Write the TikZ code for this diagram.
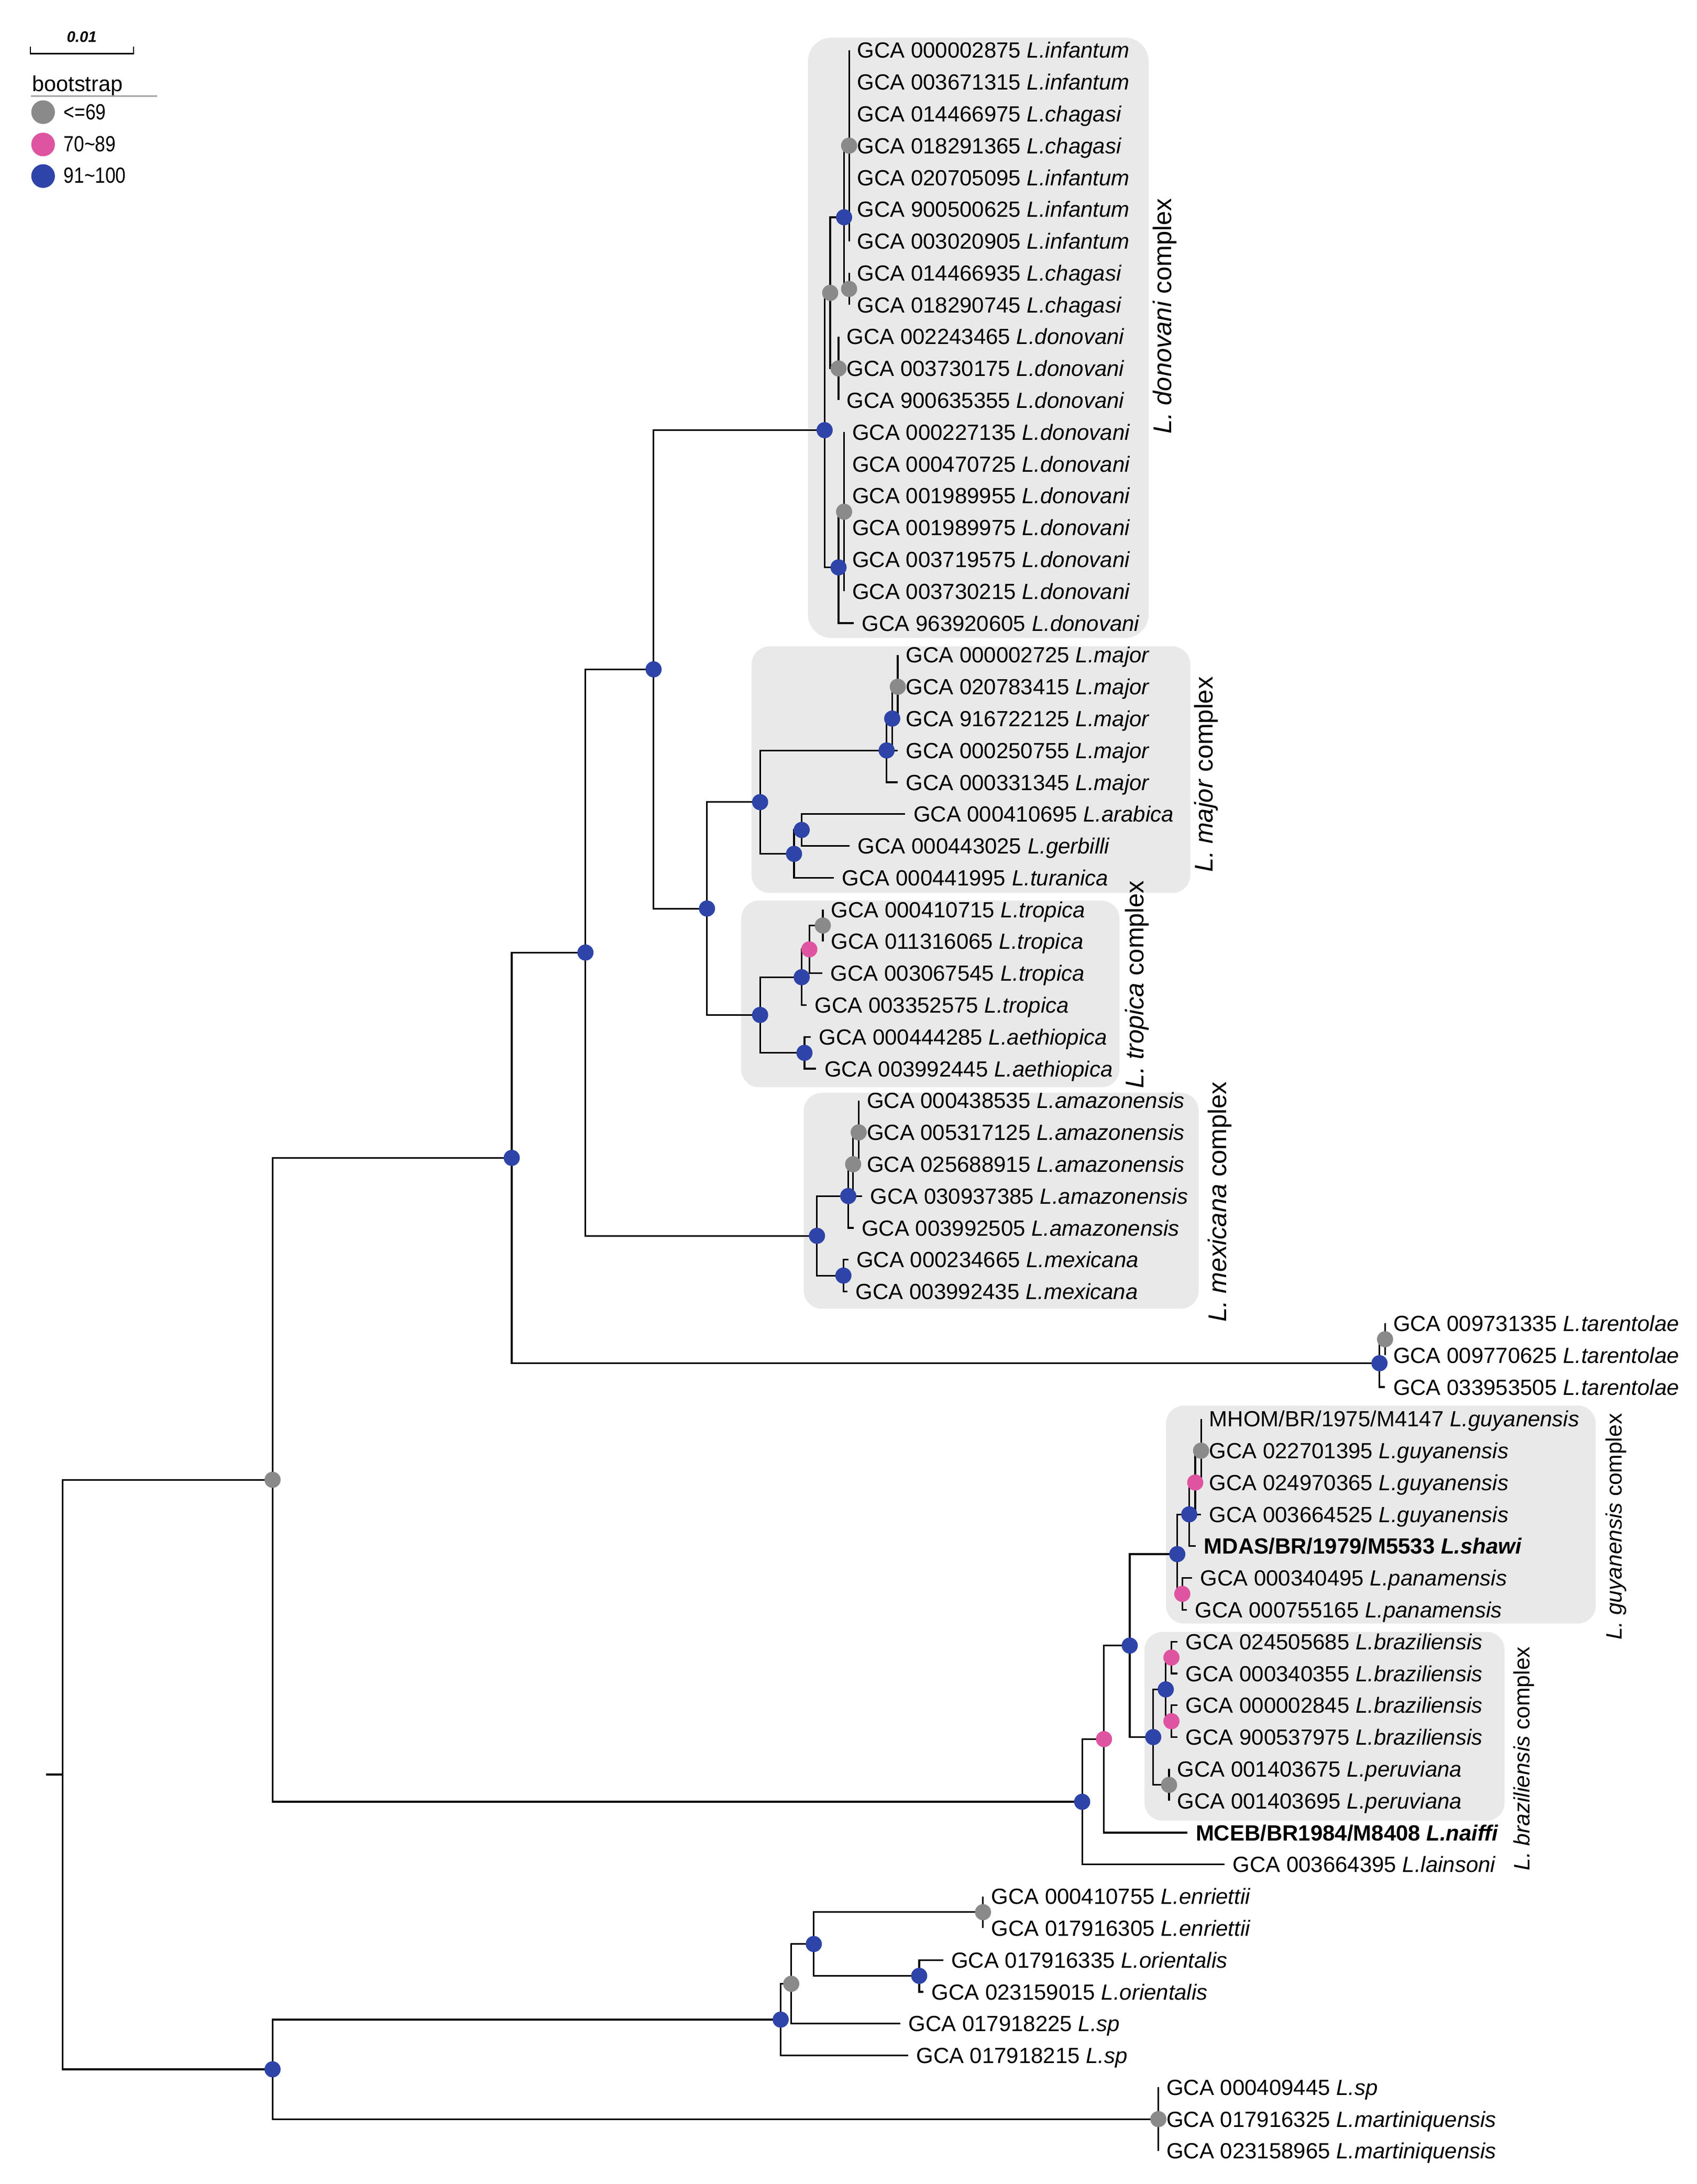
\documentclass[tikz,border=0pt]{standalone}
\usepackage{fontspec}
\setmainfont{Liberation Sans}
\usetikzlibrary{calc}
\definecolor{dotgrey}{RGB}{138,138,138}
\definecolor{dotpink}{RGB}{222,84,160}
\definecolor{dotblue}{RGB}{46,68,168}
\definecolor{boxgrey}{RGB}{233,233,233}
\newcommand\ry[1]{36+(#1-1)*22.85}
\newcommand\gca[2]{GCA #1 \textit{L.#2}}
\newcommand\tleaf[5]{%
  \coordinate (#1) at (#3,{\ry{#4}});
  \draw[br] (#2) |- (#1);
  \node[leaf] (#1t) at ($(#1)+(5.5,5.66)$) {#5};
}
\begin{document}
\begin{tikzpicture}[x=0.5pt,y=-0.501pt,
  br/.style={line width=0.6pt,black},
  leaf/.style={anchor=base west,inner sep=0pt,font=\fontsize{7.9}{9.5}\selectfont},
  rotbig/.style={rotate=90,inner sep=0pt,anchor=center,font=\fontsize{9.2}{11}\selectfont},
  rotsmall/.style={rotate=90,inner sep=0pt,anchor=center,font=\fontsize{8}{10}\selectfont},
  clade/.style={fill=boxgrey,rounded corners=6.5pt},
  gd/.style={fill=dotgrey},
  pd/.style={fill=dotpink},
  bd/.style={fill=dotblue},
  legtxt/.style={anchor=base west,inner sep=0pt,font=\fontsize{7.9}{9.5}\selectfont}]
\useasboundingbox (0pt,0pt) rectangle (610pt,-785.5pt);
\fill[white] (0pt,0pt) rectangle (610pt,-785.5pt);

% clade boxes
\fill[clade,rounded corners=8.5pt] (581,27) rectangle (826,458);
\fill[clade] (540.5,464) rectangle (856,641);
\fill[clade] (533,646.5) rectangle (805,780.5);
\fill[clade] (578,784.5) rectangle (862,939.5);
\fill[clade] (838.5,1009) rectangle (1147.5,1165.5);
\fill[clade] (823,1171.5) rectangle (1082,1307);

% internal nodes
\coordinate (rootstub) at (33,1273.9);
\coordinate (root) at (45,1273.9);
\coordinate (R1) at (196,1062.3);
\coordinate (R2) at (196,1485.5);
\coordinate (B1) at (368,831.2);
\coordinate (B2) at (421,683.8);
\coordinate (B3) at (470,480.5);
\coordinate (B4) at (508.4,652.2);
\coordinate (D0) at (593,308.8);
\coordinate (D1) at (597,210.24);
\coordinate (N2) at (607,155.98);
\coordinate (N1) at (610.6,104.55);
\coordinate (N3) at (610.6,207.4);
\coordinate (D2) at (603,264.5);
\coordinate (D3) at (603,407.3);
\coordinate (D4) at (607,367.33);
\coordinate (M0) at (546.6,575.8);
\coordinate (M1) at (637.6,538.7);
\coordinate (M3) at (641.6,515.85);
\coordinate (M4) at (645.6,493);
\coordinate (M2) at (571,612.95);
\coordinate (M5) at (576.5,595.8);
\coordinate (T0) at (546.6,728.6);
\coordinate (T1) at (576.5,701.5);
\coordinate (T3) at (582,681.5);
\coordinate (T4) at (591.7,664.4);
\coordinate (T2) at (578.5,755.8);
\coordinate (X0) at (587.5,887.15);
\coordinate (X1) at (610,858.6);
\coordinate (X2) at (613.5,835.75);
\coordinate (X3) at (617.5,812.9);
\coordinate (X4) at (606.5,915.7);
\coordinate (TA) at (992,978.6);
\coordinate (TB) at (996,961.4);
\coordinate (BR0) at (778.2,1293.45);
\coordinate (BR1) at (793.9,1248.45);
\coordinate (BR2) at (812.4,1181.3);
\coordinate (BR3) at (829.3,1247);
\coordinate (BR4) at (838.3,1212.75);
\coordinate (BR5) at (842.4,1189.9);
\coordinate (BR6) at (842.4,1235.6);
\coordinate (BR7) at (840.7,1281.3);
\coordinate (G0) at (846.6,1115.65);
\coordinate (G1) at (855.2,1087.1);
\coordinate (G3) at (859.5,1064.25);
\coordinate (G4) at (863.7,1041.4);
\coordinate (G2) at (850.2,1144.2);
\coordinate (E0) at (561.4,1449.8);
\coordinate (E1) at (569,1424.1);
\coordinate (E2) at (585.2,1395.55);
\coordinate (E3) at (706.9,1372.7);
\coordinate (E4) at (661,1418.4);
\coordinate (MQ) at (833,1521.25);

% internal branches
\draw[br] (rootstub) -- (root);
\draw[br] (root) |- (R1);
\draw[br] (root) |- (R2);
\draw[br] (R1) |- (B1);
\draw[br] (R1) |- (BR0);
\draw[br] (R2) |- (E0);
\draw[br] (R2) |- (MQ);
\draw[br] (B1) |- (B2);
\draw[br] (B1) |- (TA);
\draw[br] (B2) |- (B3);
\draw[br] (B2) |- (X0);
\draw[br] (B3) |- (D0);
\draw[br] (B3) |- (B4);
\draw[br] (B4) |- (M0);
\draw[br] (B4) |- (T0);
\draw[br] (D0) |- (D1);
\draw[br] (D0) |- (D3);
\draw[br] (D1) |- (N2);
\draw[br] (D1) |- (D2);
\draw[br] (N2) |- (N1);
\draw[br] (N2) |- (N3);
\draw[br] (D3) |- (D4);
\draw[br] (M0) |- (M1);
\draw[br] (M0) |- (M2);
\draw[br] (M1) |- (M3);
\draw[br] (M3) |- (M4);
\draw[br] (M2) |- (M5);
\draw[br] (T0) |- (T1);
\draw[br] (T0) |- (T2);
\draw[br] (T1) |- (T3);
\draw[br] (T3) |- (T4);
\draw[br] (X0) |- (X1);
\draw[br] (X0) |- (X4);
\draw[br] (X1) |- (X2);
\draw[br] (X2) |- (X3);
\draw[br] (TA) |- (TB);
\draw[br] (BR0) |- (BR1);
\draw[br] (BR1) |- (BR2);
\draw[br] (BR2) |- (G0);
\draw[br] (BR2) |- (BR3);
\draw[br] (BR3) |- (BR4);
\draw[br] (BR3) |- (BR7);
\draw[br] (BR4) |- (BR5);
\draw[br] (BR4) |- (BR6);
\draw[br] (G0) |- (G1);
\draw[br] (G0) |- (G2);
\draw[br] (G1) |- (G3);
\draw[br] (G3) |- (G4);
\draw[br] (E0) |- (E1);
\draw[br] (E1) |- (E2);
\draw[br] (E2) |- (E3);
\draw[br] (E2) |- (E4);

% leaves
\tleaf{l1}{N1}{610.6}{1}{\gca{000002875}{infantum}}
\tleaf{l2}{N1}{610.6}{2}{\gca{003671315}{infantum}}
\tleaf{l3}{N1}{610.6}{3}{\gca{014466975}{chagasi}}
\tleaf{l4}{N1}{610.6}{4}{\gca{018291365}{chagasi}}
\tleaf{l5}{N1}{610.6}{5}{\gca{020705095}{infantum}}
\tleaf{l6}{N1}{610.6}{6}{\gca{900500625}{infantum}}
\tleaf{l7}{N1}{610.6}{7}{\gca{003020905}{infantum}}
\tleaf{l8}{N3}{610.6}{8}{\gca{014466935}{chagasi}}
\tleaf{l9}{N3}{610.6}{9}{\gca{018290745}{chagasi}}
\tleaf{l10}{D2}{603}{10}{\gca{002243465}{donovani}}
\tleaf{l11}{D2}{603}{11}{\gca{003730175}{donovani}}
\tleaf{l12}{D2}{603}{12}{\gca{900635355}{donovani}}
\tleaf{l13}{D4}{607}{13}{\gca{000227135}{donovani}}
\tleaf{l14}{D4}{607}{14}{\gca{000470725}{donovani}}
\tleaf{l15}{D4}{607}{15}{\gca{001989955}{donovani}}
\tleaf{l16}{D4}{607}{16}{\gca{001989975}{donovani}}
\tleaf{l17}{D4}{607}{17}{\gca{003719575}{donovani}}
\tleaf{l18}{D4}{607}{18}{\gca{003730215}{donovani}}
\tleaf{l19}{D3}{614}{19}{\gca{963920605}{donovani}}
\tleaf{l20}{M4}{645.6}{20}{\gca{000002725}{major}}
\tleaf{l21}{M4}{645.6}{21}{\gca{020783415}{major}}
\tleaf{l22}{M4}{645.6}{22}{\gca{916722125}{major}}
\tleaf{l23}{M3}{645.6}{23}{\gca{000250755}{major}}
\tleaf{l24}{M1}{645.6}{24}{\gca{000331345}{major}}
\tleaf{l25}{M5}{651}{25}{\gca{000410695}{arabica}}
\tleaf{l26}{M5}{611}{26}{\gca{000443025}{gerbilli}}
\tleaf{l27}{M2}{599.7}{27}{\gca{000441995}{turanica}}
\tleaf{l28}{T4}{591.7}{28}{\gca{000410715}{tropica}}
\tleaf{l29}{T4}{591.7}{29}{\gca{011316065}{tropica}}
\tleaf{l30}{T3}{591.4}{30}{\gca{003067545}{tropica}}
\tleaf{l31}{T1}{580}{31}{\gca{003352575}{tropica}}
\tleaf{l32}{T2}{583}{32}{\gca{000444285}{aethiopica}}
\tleaf{l33}{T2}{587}{33}{\gca{003992445}{aethiopica}}
\tleaf{l34}{X3}{617.5}{34}{\gca{000438535}{amazonensis}}
\tleaf{l35}{X3}{617.5}{35}{\gca{005317125}{amazonensis}}
\tleaf{l36}{X3}{617.5}{36}{\gca{025688915}{amazonensis}}
\tleaf{l37}{X2}{620}{37}{\gca{030937385}{amazonensis}}
\tleaf{l38}{X1}{613.8}{38}{\gca{003992505}{amazonensis}}
\tleaf{l39}{X4}{610}{39}{\gca{000234665}{mexicana}}
\tleaf{l40}{X4}{609.5}{40}{\gca{003992435}{mexicana}}
\tleaf{l41}{TB}{996}{41}{\gca{009731335}{tarentolae}}
\tleaf{l42}{TB}{996}{42}{\gca{009770625}{tarentolae}}
\tleaf{l43}{TA}{996}{43}{\gca{033953505}{tarentolae}}
\tleaf{l44}{G4}{863.7}{44}{MHOM/BR/1975/M4147 \textit{L.guyanensis}}
\tleaf{l45}{G4}{863.7}{45}{\gca{022701395}{guyanensis}}
\tleaf{l46}{G4}{863.7}{46}{\gca{024970365}{guyanensis}}
\tleaf{l47}{G3}{863.7}{47}{\gca{003664525}{guyanensis}}
\tleaf{l48}{G1}{860}{48}{\textbf{MDAS/BR/1979/M5533 \textit{L.shawi}}}
\tleaf{l49}{G2}{857.3}{49}{\gca{000340495}{panamensis}}
\tleaf{l50}{G2}{853.6}{50}{\gca{000755165}{panamensis}}
\tleaf{l51}{BR5}{846.8}{51}{\gca{024505685}{braziliensis}}
\tleaf{l52}{BR5}{846.8}{52}{\gca{000340355}{braziliensis}}
\tleaf{l53}{BR6}{846.8}{53}{\gca{000002845}{braziliensis}}
\tleaf{l54}{BR6}{846.8}{54}{\gca{900537975}{braziliensis}}
\tleaf{l55}{BR7}{840.7}{55}{\gca{001403675}{peruviana}}
\tleaf{l56}{BR7}{840.7}{56}{\gca{001403695}{peruviana}}
\tleaf{l57}{BR1}{854}{57}{\textbf{MCEB/BR1984/M8408 \textit{L.naiffi}}}
\tleaf{l58}{BR0}{880.6}{58}{\gca{003664395}{lainsoni}}
\tleaf{l59}{E3}{706.9}{59}{\gca{000410755}{enriettii}}
\tleaf{l60}{E3}{706.9}{60}{\gca{017916305}{enriettii}}
\tleaf{l61}{E4}{678.2}{61}{\gca{017916335}{orientalis}}
\tleaf{l62}{E4}{664}{62}{\gca{023159015}{orientalis}}
\tleaf{l63}{E1}{647.5}{63}{\gca{017918225}{sp}}
\tleaf{l64}{E0}{653}{64}{\gca{017918215}{sp}}
\tleaf{l65}{MQ}{833}{65}{\gca{000409445}{sp}}
\tleaf{l66}{MQ}{833}{66}{\gca{017916325}{martiniquensis}}
\tleaf{l67}{MQ}{833}{67}{\gca{023158965}{martiniquensis}}

% bootstrap dots
\foreach \n in {N1,N3,D1,D2,D4,M4,T4,X3,X2,TB,G4,BR7,E3,E1,MQ,R1}
  \fill[gd] (\n) circle[radius=2.9pt];
\foreach \n in {T3,G3,G2,BR5,BR6,BR1}
  \fill[pd] (\n) circle[radius=2.9pt];
\foreach \n in {N2,D0,D3,M3,M1,M0,M5,M2,T1,T0,T2,B4,B3,B2,B1,X1,X0,X4,TA,G1,G0,BR4,BR3,BR2,BR0,E2,E4,E0,R2}
  \fill[bd] (\n) circle[radius=2.9pt];

% clade labels
\node[rotbig] (cdon) at (837.5,227) {\textit{L. donovani} complex};
\node[rotbig] (cmaj) at (867.5,556) {\textit{L. major} complex};
\node[rotbig] (ctro) at (817.6,706.6) {\textit{L. tropica} complex};
\node[rotbig] (cmex) at (877,862.8) {\textit{L. mexicana} complex};
\node[rotsmall] (cguy) at (1162,1096) {\textit{L. guyanensis} complex};
\node[rotsmall] (cbra) at (1096,1262.5) {\textit{L. braziliensis} complex};

% legend
\node[anchor=base,inner sep=0pt,font=\fontsize{5.5}{6.5}\selectfont\bfseries\itshape] (scaletxt) at (58.8,30.3) {0.01};
\coordinate (sbA) at (21.9,33.5);
\coordinate (sbB) at (21.9,38.5);
\coordinate (sbC) at (96.1,38.5);
\coordinate (sbD) at (96.1,33.5);
\draw[line width=0.5pt] (sbA) -- (sbB) -- (sbC) -- (sbD);
\node[legtxt,font=\fontsize{7.8}{9.5}\selectfont] (bstxt) at (22.8,65.7) {bootstrap};
\coordinate (ulA) at (22.1,68.9);
\coordinate (ulB) at (113.1,68.9);
\draw[gray!70,line width=0.5pt] (ulA) -- (ulB);
\coordinate (lg1) at (31,80.5);
\coordinate (lg2) at (31,103.7);
\coordinate (lg3) at (31,126.4);
\fill[gd] (lg1) circle[radius=4.25pt];
\fill[pd] (lg2) circle[radius=4.25pt];
\fill[bd] (lg3) circle[radius=4.25pt];
\node[legtxt] (lt1) at (45.5,86) {\scalebox{0.84}[1]{<=69}};
\node[legtxt] (lt2) at (45.5,108.7) {\scalebox{0.84}[1]{70\textasciitilde 89}};
\node[legtxt] (lt3) at (45.5,131.4) {\scalebox{0.84}[1]{91\textasciitilde 100}};
\end{tikzpicture}
\end{document}
